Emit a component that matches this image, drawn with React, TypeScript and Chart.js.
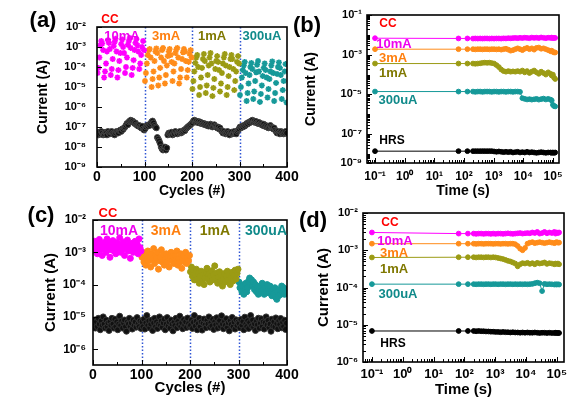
import React, { useEffect, useRef } from 'react';
import { Chart, registerables } from 'chart.js';
Chart.register(...registerables);

const FONT = "'Liberation Sans', Arial, sans-serif";

// ---------------- colours ----------------
const C_MAG = '#ff00ff';
const C_ORG = '#ff8c1a';
const C_OLV = '#9b9b14';
const C_TEA = '#169999';
const C_BLK = '#000000';

// ---------------- panel (a): cycles, pulse sweep ----------------
const a10mA = [5e-5, 9e-5, 3e-4, 1.2e-3, 2e-3, 1.5e-3, 7e-4, 3e-5, 6e-5, 1.5e-4, 6e-4, 2.2e-3, 1.6e-3, 8e-4, 4e-5, 8e-5, 2.5e-4, 1.1e-3, 1.8e-3, 2.6e-3, 6e-4, 3e-5, 7e-5, 2e-4, 5e-4, 1.4e-3, 2.4e-3, 1e-3, 5e-4, 5e-5, 1e-4, 3e-4, 1.3e-3, 2e-3, 2.8e-3, 9e-4, 4e-5, 9e-5, 2.2e-4, 7e-4, 1.6e-3, 2.5e-3, 1.2e-3, 6e-4, 8e-5, 1.5e-4, 4e-4, 1e-3, 2e-3, 7e-4];
const a3mA = [2e-5, 5e-5, 1.5e-4, 4e-4, 7e-4, 8e-4, 3e-4, 1e-5, 2.5e-5, 6e-5, 2e-4, 6e-4, 8.5e-4, 5e-4, 1.2e-5, 3e-5, 9e-5, 3e-4, 7e-4, 9e-4, 2e-4, 1.5e-5, 4e-5, 1.2e-4, 3.5e-4, 6e-4, 8e-4, 4e-4, 1.8e-4, 2e-5, 6e-5, 1.5e-4, 5e-4, 7.5e-4, 9e-4, 3e-4, 1.5e-5, 3e-5, 8e-5, 2.5e-4, 5.5e-4, 8e-4, 6e-4, 2e-4, 3e-5, 7e-5, 1.8e-4, 4.5e-4, 7e-4, 3e-4];
const a1mA = [8e-6, 2e-5, 6e-5, 1.6e-4, 3e-4, 4e-4, 1e-4, 4e-6, 1e-5, 3e-5, 9e-5, 2.5e-4, 4.5e-4, 2e-4, 5e-6, 1.2e-5, 4e-5, 1.2e-4, 3e-4, 5e-4, 1.5e-4, 3.5e-6, 9e-6, 2.5e-5, 8e-5, 2e-4, 3.5e-4, 1.8e-4, 7e-5, 6e-6, 1.5e-5, 5e-5, 1.5e-4, 3e-4, 4.5e-4, 1.2e-4, 4e-6, 1e-5, 3.5e-5, 1e-4, 2.5e-4, 4e-4, 2.5e-4, 8e-5, 7e-6, 2e-5, 6e-5, 1.8e-4, 3.5e-4, 1.5e-4];
const a300uA = [4e-6, 1e-5, 3e-5, 7e-5, 1.2e-4, 1.8e-4, 5e-5, 2e-6, 5e-6, 1.5e-5, 4e-5, 1e-4, 1.6e-4, 8e-5, 2.5e-6, 6e-6, 2e-5, 5.5e-5, 1.3e-4, 2e-4, 6e-5, 1.8e-6, 4.5e-6, 1.2e-5, 3.5e-5, 9e-5, 1.5e-4, 7e-5, 3e-5, 3e-6, 8e-6, 2.5e-5, 6e-5, 1.2e-4, 1.9e-4, 5e-5, 2e-6, 5e-6, 1.6e-5, 4.5e-5, 1e-4, 1.7e-4, 9e-5, 4e-5, 2.5e-6, 7e-6, 2e-5, 6e-5, 1.4e-4, 1.7e-6];
const aHRS = [
  5e-8, 4e-8, 5.5e-8, 4.5e-8, 6e-8, 5e-8, 4e-8, 4.5e-8, 5.5e-8, 5e-8, 4e-8, 6e-8, 5e-8, 4.5e-8, 5.5e-8, 6e-8, 5e-8, 4.5e-8, 4e-8, 5e-8, 6e-8, 5.5e-8, 5e-8, 6.5e-8, 7e-8, 6e-8, 8e-8, 7.5e-8,
  9e-8, 1e-7, 1.2e-7, 1.5e-7, 1.3e-7, 1.8e-7, 2e-7, 2.2e-7, 1.9e-7, 2e-7, 1.7e-7, 1.5e-7, 1.6e-7, 1.3e-7, 1.2e-7,
  1.1e-7, 1.2e-7, 1e-7, 9e-8, 1.1e-7, 8e-8, 7e-8,
  8e-8, 1e-7, 1.2e-7, 1.1e-7, 1.3e-7, 1.2e-7, 1.5e-7, 1.8e-7, 2e-7, 1.6e-7,
  1.2e-7, 1e-7, 9e-8, 3e-8, 2.5e-8, 2e-8, 1.5e-8, 1e-8, 8e-9, 7e-9, 8e-9, 1e-8, 7e-9, 9e-9,
  4e-8, 5e-8, 4.5e-8, 5e-8, 5.5e-8, 4e-8, 5e-8, 4.5e-8, 6e-8, 5e-8, 4.5e-8, 5.5e-8, 5e-8, 6e-8, 5e-8, 5.5e-8, 6e-8, 7e-8, 6.5e-8,
  8e-8, 9e-8, 1e-7, 1.1e-7, 1.2e-7, 1.3e-7, 1.5e-7,
  1.6e-7, 2e-7, 2.2e-7, 1.8e-7, 2e-7, 1.7e-7, 1.9e-7, 1.6e-7, 1.8e-7, 1.5e-7, 1.6e-7, 1.4e-7, 1.5e-7,
  1.3e-7, 1.4e-7, 1.2e-7, 1.3e-7, 1.1e-7, 1.2e-7, 1.4e-7, 1.2e-7, 1e-7, 1.1e-7, 1.3e-7, 1.1e-7, 1e-7, 9e-8, 1e-7, 8e-8, 9e-8,
  7e-8, 6e-8, 5e-8, 6e-8, 5e-8, 4.5e-8, 5e-8, 6e-8, 5e-8, 4e-8, 5e-8, 5.5e-8, 4.5e-8, 5e-8, 6e-8, 5e-8, 4.5e-8, 6e-8, 7e-8, 8e-8,
  1e-7, 9e-8, 1.1e-7, 1e-7, 1.2e-7,
  1.1e-7, 1.3e-7, 1.5e-7, 1.4e-7, 1.7e-7, 1.6e-7, 1.9e-7, 2e-7, 2.2e-7, 1.8e-7, 2e-7, 1.7e-7, 1.9e-7, 1.6e-7, 1.5e-7, 1.7e-7, 1.4e-7, 1.5e-7,
  1.3e-7, 1.2e-7, 1.4e-7, 1.1e-7, 1.2e-7, 1e-7, 1.1e-7, 9e-8, 1e-7, 1.2e-7, 1e-7, 9e-8, 8e-8, 9e-8, 7e-8,
  6e-8, 5e-8, 6e-8, 5e-8, 4.5e-8, 6e-8, 5e-8, 5.5e-8, 4.5e-8, 5e-8, 6e-8, 5e-8,
];

// ---------------- panel (c): cycles, second device ----------------
const c10mA = [1.5e-3, 2.2e-3, 1.1e-3, 1.8e-3, 9e-4, 1.4e-3, 2.5e-3, 1.2e-3, 1.7e-3, 8e-4, 1.3e-3, 2e-3, 1.6e-3, 1e-3, 2.6e-3, 1.4e-3, 1.9e-3, 7e-4, 1.2e-3, 1.7e-3, 2.3e-3, 1.1e-3, 1.5e-3, 9e-4, 2e-3, 1.3e-3, 1.8e-3, 2.8e-3, 1e-3, 1.5e-3, 1.2e-3, 2.1e-3, 8e-4, 1.6e-3, 1.4e-3, 2.4e-3, 1.1e-3, 1.7e-3, 6.5e-4, 1.3e-3, 1.9e-3, 1e-3, 1.5e-3, 2.2e-3, 1.2e-3, 1.8e-3, 9e-4, 2.6e-3, 1.4e-3, 1.1e-3];
const c3mA = [7e-4, 1e-3, 5e-4, 8e-4, 4e-4, 6e-4, 1.1e-3, 5.5e-4, 7.5e-4, 3.5e-4, 9e-4, 6e-4, 1.3e-3, 4.5e-4, 8e-4, 6.5e-4, 1e-3, 3e-4, 5.5e-4, 7e-4, 1.2e-3, 5e-4, 8.5e-4, 4e-4, 6e-4, 9e-4, 5e-4, 7e-4, 3.5e-4, 6.5e-4, 1e-3, 5.5e-4, 7.5e-4, 4.5e-4, 8e-4, 6e-4, 1.1e-3, 4e-4, 6.5e-4, 5e-4, 9e-4, 3.2e-4, 6e-4, 7.5e-4, 5e-4, 1e-3, 4.5e-4, 7e-4, 5.5e-4, 8e-4];
const c1mA = [2.5e-4, 3.5e-4, 1.8e-4, 2.8e-4, 1.4e-4, 2e-4, 3e-4, 1.5e-4, 2.2e-4, 1.1e-4, 1.8e-4, 2.6e-4, 1.3e-4, 2e-4, 1e-4, 1.6e-4, 2.4e-4, 3.2e-4, 1.5e-4, 2.1e-4, 1.2e-4, 1.8e-4, 2.7e-4, 1.4e-4, 2e-4, 3.8e-4, 1.6e-4, 2.3e-4, 1.1e-4, 1.7e-4, 2.5e-4, 1.3e-4, 1.9e-4, 9e-5, 1.5e-4, 2.2e-4, 1.2e-4, 1.8e-4, 2.6e-4, 1.4e-4, 2e-4, 1e-4, 1.6e-4, 2.4e-4, 1.3e-4, 1.9e-4, 2.8e-4, 1.5e-4, 2.2e-4, 3e-4];
const c300uA = [1.2e-4, 8e-5, 1e-4, 6e-5, 9e-5, 5e-5, 7e-5, 1.1e-4, 6e-5, 8e-5, 1.3e-4, 1.6e-4, 1e-4, 1.4e-4, 9e-5, 1.2e-4, 7e-5, 1e-4, 6e-5, 8e-5, 5e-5, 7e-5, 9e-5, 6e-5, 1.1e-4, 7e-5, 5e-5, 8e-5, 6e-5, 1e-4, 7e-5, 5.5e-5, 9e-5, 6e-5, 4.5e-5, 7e-5, 5e-5, 8e-5, 4e-5, 3.5e-5, 6e-5, 4.5e-5, 7e-5, 5e-5, 9e-5, 6e-5, 8e-5, 5e-5, 7e-5, 6e-5];
const cHRS = [
  6e-6, 8e-6, 4.5e-6, 7e-6, 5e-6, 9e-6, 6e-6, 4e-6, 7.5e-6, 5.5e-6, 1e-5, 6e-6, 4.5e-6, 8e-6, 5e-6, 6.5e-6, 3.8e-6, 7e-6, 5.5e-6, 9e-6, 6e-6, 4.5e-6, 8.5e-6, 5e-6, 7e-6, 4e-6, 6e-6, 1.05e-5, 5.5e-6, 7.5e-6, 4.5e-6, 6.5e-6, 8e-6, 5e-6, 3.6e-6, 7e-6, 6e-6, 9e-6, 5e-6, 6.5e-6, 4.2e-6, 8e-6, 5.5e-6, 7e-6, 4.8e-6, 9.5e-6, 6e-6, 5e-6, 7.5e-6, 4.4e-6,
  7e-6, 5e-6, 8.5e-6, 4.2e-6, 6.5e-6, 1.1e-5, 5.5e-6, 7.5e-6, 4.6e-6, 6e-6, 8e-6, 3.8e-6, 6.5e-6, 9e-6, 5e-6, 7e-6, 4.4e-6, 6e-6, 1e-5, 5.5e-6, 7.5e-6, 4.8e-6, 6.5e-6, 8.5e-6, 4e-6, 6e-6, 9.5e-6, 5.2e-6, 7e-6, 4.5e-6, 8e-6, 6e-6, 3.7e-6, 6.8e-6, 5.4e-6, 9e-6, 4.6e-6, 7.2e-6, 5.8e-6, 1.05e-5, 5e-6, 6.6e-6, 4.3e-6, 8.2e-6, 5.6e-6, 7e-6, 4.7e-6, 9.2e-6, 6.2e-6, 5.1e-6,
  5.5e-6, 8e-6, 4.4e-6, 6.8e-6, 1.1e-5, 5.2e-6, 7.4e-6, 4e-6, 6.2e-6, 9e-6, 5e-6, 7e-6, 3.9e-6, 6.4e-6, 8.6e-6, 5.6e-6, 4.6e-6, 7.8e-6, 6e-6, 1e-5, 4.8e-6, 6.6e-6, 5.3e-6, 8.4e-6, 4.1e-6, 7.1e-6, 5.7e-6, 9.4e-6, 4.5e-6, 6.3e-6, 7.7e-6, 5.1e-6, 1.08e-5, 6e-6, 4.3e-6, 7.3e-6, 5.5e-6, 8.8e-6, 4.7e-6, 6.5e-6, 3.7e-6, 7.6e-6, 5.9e-6, 9.6e-6, 5e-6, 6.9e-6, 4.2e-6, 8.1e-6, 5.4e-6, 7e-6,
  6.3e-6, 4.6e-6, 8.3e-6, 5.5e-6, 7.2e-6, 4e-6, 9.8e-6, 6e-6, 5e-6, 7.6e-6, 4.4e-6, 6.7e-6, 1.1e-5, 5.3e-6, 8e-6, 4.8e-6, 6.1e-6, 3.8e-6, 7.4e-6, 5.7e-6, 9.1e-6, 4.5e-6, 6.4e-6, 8.7e-6, 5.1e-6, 7e-6, 4.2e-6, 6.6e-6, 1e-5, 5.6e-6, 7.8e-6, 4.7e-6, 6e-6, 3.6e-6, 8.5e-6, 5.2e-6, 7.1e-6, 4.9e-6, 9.3e-6, 6.2e-6, 4.3e-6, 7.5e-6, 5.8e-6, 8.9e-6, 4.6e-6, 6.8e-6, 5e-6, 7.9e-6, 4.1e-6, 6.4e-6,
];

// ---------------- panels (b), (d): retention vs time ----------------
const tTime = [0.1, 65, 130, 200, 240, 290, 350, 420, 500, 600, 720, 860, 1030, 1240, 1490, 1790, 2150, 2580, 3100, 3720, 4460, 5350, 6420, 7700, 9240, 11100, 13300, 16000, 19200, 23000, 27600, 33100, 39700, 47600, 57100, 68500, 82200, 90000, 98600, 108000, 118000];

const b10mA = [6.8e-3, 6.6e-3, 6.6e-3, 6.5e-3, 6.6e-3, 6.5e-3, 6.6e-3, 6.5e-3, 6.6e-3, 6.6e-3, 6.5e-3, 6.6e-3, 6.5e-3, 6.6e-3, 6.6e-3, 6.5e-3, 6.7e-3, 6.6e-3, 6.8e-3, 6.7e-3, 6.9e-3, 7e-3, 6.8e-3, 7.1e-3, 6.9e-3, 7.2e-3, 7e-3, 6.8e-3, 7.3e-3, 7e-3, 7.2e-3, 6.9e-3, 7.4e-3, 7.1e-3, 6.8e-3, 7.2e-3, 7e-3, 7.3e-3, 6.9e-3, 7.1e-3, 7e-3];
const b3mA = [1.9e-3, 1.9e-3, 1.9e-3, 1.9e-3, 1.85e-3, 1.9e-3, 1.9e-3, 1.85e-3, 1.9e-3, 1.9e-3, 1.85e-3, 1.9e-3, 1.9e-3, 1.85e-3, 1.9e-3, 1.8e-3, 1.9e-3, 2e-3, 1.8e-3, 1.6e-3, 1.7e-3, 1.9e-3, 2.1e-3, 1.9e-3, 1.7e-3, 2e-3, 2.2e-3, 1.9e-3, 2.1e-3, 1.8e-3, 2.2e-3, 2.3e-3, 2e-3, 2.1e-3, 1.9e-3, 1.7e-3, 1.5e-3, 1.6e-3, 1.4e-3, 1.3e-3, 1.3e-3];
const b1mA = [3.6e-4, 3.6e-4, 3.6e-4, 3.6e-4, 3.5e-4, 3.6e-4, 3.7e-4, 3.9e-4, 4e-4, 3.9e-4, 4e-4, 3.8e-4, 3.6e-4, 3e-4, 2.4e-4, 1.8e-4, 1.5e-4, 1.4e-4, 1.5e-4, 1.4e-4, 1.45e-4, 1.4e-4, 1.5e-4, 1.4e-4, 1.6e-4, 1.3e-4, 1.5e-4, 1.2e-4, 1.4e-4, 1.6e-4, 1.3e-4, 1.1e-4, 1.4e-4, 1.2e-4, 1e-4, 1.3e-4, 1.1e-4, 9e-5, 1e-4, 7e-5, 6e-5];
const b300uA = [1.4e-5, 1.4e-5, 1.4e-5, 1.4e-5, 1.35e-5, 1.4e-5, 1.4e-5, 1.35e-5, 1.4e-5, 1.4e-5, 1.4e-5, 1.35e-5, 1.4e-5, 1.4e-5, 1.35e-5, 1.4e-5, 1.4e-5, 1.35e-5, 1.4e-5, 1.4e-5, 1.35e-5, 1.4e-5, 1.4e-5, 1.35e-5, 6.5e-6, 6e-6, 5.6e-6, 5.8e-6, 5.5e-6, 5.7e-6, 6e-6, 5.5e-6, 5.8e-6, 6.2e-6, 5.6e-6, 6e-6, 5.5e-6, 5e-6, 3e-6, 2.6e-6, 2.5e-6];
const bHRS = [1.4e-8, 1.4e-8, 1.4e-8, 1.4e-8, 1.4e-8, 1.4e-8, 1.4e-8, 1.4e-8, 1.4e-8, 1.4e-8, 1.4e-8, 1.4e-8, 1.35e-8, 1.3e-8, 1.35e-8, 1.3e-8, 1.25e-8, 1.3e-8, 1.25e-8, 1.3e-8, 1.2e-8, 1.25e-8, 1.3e-8, 1.2e-8, 1.25e-8, 1.2e-8, 1.3e-8, 1.2e-8, 1.25e-8, 1.2e-8, 1.15e-8, 1.2e-8, 1.25e-8, 1.2e-8, 1.15e-8, 1.2e-8, 1.2e-8, 1.15e-8, 1.2e-8, 1.15e-8, 1.2e-8];

const d10mA = [3e-3, 2.8e-3, 2.8e-3, 2.8e-3, 2.75e-3, 2.8e-3, 2.8e-3, 2.75e-3, 2.8e-3, 2.8e-3, 2.75e-3, 2.8e-3, 2.75e-3, 2.8e-3, 2.8e-3, 2.75e-3, 2.8e-3, 2.85e-3, 2.8e-3, 2.75e-3, 2.8e-3, 2.85e-3, 2.9e-3, 2.8e-3, 2.85e-3, 2.9e-3, 2.85e-3, 3e-3, 2.9e-3, 3.1e-3, 2.8e-3, 2.9e-3, 3.1e-3, 2.85e-3, 3e-3, 2.9e-3, 3.1e-3, 2.8e-3, 3e-3, 2.9e-3, 3e-3];
const d3mA = [1.5e-3, 1.5e-3, 1.5e-3, 1.5e-3, 1.48e-3, 1.5e-3, 1.5e-3, 1.48e-3, 1.5e-3, 1.5e-3, 1.5e-3, 1.48e-3, 1.5e-3, 1.5e-3, 1.48e-3, 1.5e-3, 1.5e-3, 1.48e-3, 1.5e-3, 1.5e-3, 1.45e-3, 1.3e-3, 1.1e-3, 1e-3, 1.15e-3, 1.5e-3, 1.6e-3, 1.65e-3, 1.55e-3, 1.6e-3, 1.65e-3, 1.6e-3, 1.55e-3, 1.6e-3, 1.65e-3, 1.6e-3, 1.55e-3, 1.6e-3, 1.65e-3, 1.6e-3, 1.6e-3];
const d1mA = [6.4e-4, 6.5e-4, 6.5e-4, 6.5e-4, 6.4e-4, 6.5e-4, 6.5e-4, 6.4e-4, 6.5e-4, 6.5e-4, 6.4e-4, 6.5e-4, 6.4e-4, 6.2e-4, 6e-4, 5.8e-4, 5.5e-4, 5.2e-4, 5e-4, 4.7e-4, 4.4e-4, 3.7e-4, 4.2e-4, 4.5e-4, 4.4e-4, 4.6e-4, 4.3e-4, 4.5e-4, 4.2e-4, 4.6e-4, 4.4e-4, 4.5e-4, 4.7e-4, 4.3e-4, 4.5e-4, 4.4e-4, 4.2e-4, 4.4e-4, 4.3e-4, 4.4e-4, 4.2e-4];
const d300uA = [1.23e-4, 1.23e-4, 1.23e-4, 1.23e-4, 1.22e-4, 1.23e-4, 1.23e-4, 1.22e-4, 1.23e-4, 1.23e-4, 1.22e-4, 1.23e-4, 1.23e-4, 1.22e-4, 1.23e-4, 1.23e-4, 1.22e-4, 1.23e-4, 1.23e-4, 1.22e-4, 1.23e-4, 1.22e-4, 1.23e-4, 1.22e-4, 1.23e-4, 1.22e-4, 1.23e-4, 1.25e-4, 1.3e-4, 1.35e-4, 1.3e-4, 8e-5, 1.25e-4, 1.22e-4, 1.23e-4, 1.22e-4, 1.2e-4, 1.22e-4, 1.2e-4, 1.22e-4, 1.2e-4];
const dHRS = [6.8e-6, 6.8e-6, 6.8e-6, 6.8e-6, 6.7e-6, 6.8e-6, 6.7e-6, 6.7e-6, 6.6e-6, 6.6e-6, 6.5e-6, 6.5e-6, 6.4e-6, 6.4e-6, 6.3e-6, 6.4e-6, 6.3e-6, 6.3e-6, 6.2e-6, 6.3e-6, 6.2e-6, 6.2e-6, 6.1e-6, 6.2e-6, 6.1e-6, 6.2e-6, 6.1e-6, 6.1e-6, 6.2e-6, 6.1e-6, 6e-6, 6.1e-6, 6.1e-6, 6e-6, 6.1e-6, 6e-6, 6e-6, 6.1e-6, 6e-6, 6e-6, 6e-6];

// boundaries between compliance-current blocks
const blockEdges = [100, 200, 300];

// ---------------- helpers ----------------
const SUP: Record<string, string> = { '-': '⁻', '0': '⁰', '1': '¹', '2': '²', '3': '³', '4': '⁴', '5': '⁵', '6': '⁶', '7': '⁷', '8': '⁸', '9': '⁹' };
const pow10Label = (e: number) => '10' + String(e).split('').map((ch) => SUP[ch] ?? ch).join('');
const bold = (size: number) => ({ family: FONT, size, weight: 'bold' as const });

// every other cycle inside a 100-cycle block
const segPts = (vals: number[], start: number) => vals.map((y, i) => ({ x: start + 1 + 2 * i, y }));
const timePts = (vals: number[]) => vals.map((y, i) => ({ x: tTime[i], y }));

function logTicks(min: number, max: number) {
  const out: { value: number }[] = [];
  for (let e = Math.floor(Math.log10(min)); e <= Math.ceil(Math.log10(max)); e++) {
    for (let m = 1; m <= 9; m++) {
      const v = m * Math.pow(10, e);
      if (v >= min * 0.999999 && v <= max * 1.000001) out.push({ value: v });
    }
  }
  return out;
}
function decadeTicks(a: number, b: number) {
  const out: { value: number }[] = [];
  for (let e = a; e <= b; e++) out.push({ value: Math.pow(10, e) });
  return out;
}
const decadeLabel = (allowed: number[]) => (v: number) => {
  const e = Math.log10(v);
  const r = Math.round(e);
  return Math.abs(e - r) < 1e-6 && allowed.includes(r) ? pow10Label(r) : '';
};

function axis(o: {
  type: string; min: number; max: number; title: string; titleSize: number; tickSize: number; tickPad: number;
  fit: 'width' | 'height'; fitVal: number; label: (v: number) => string; build?: (s: any) => void; stepSize?: number;
}) {
  return {
    type: o.type,
    min: o.min,
    max: o.max,
    grid: { display: false, drawTicks: false },
    border: { display: false },
    title: { display: true, text: o.title, color: '#000', font: bold(o.titleSize), padding: 0 },
    ticks: {
      color: '#000', font: bold(o.tickSize), padding: o.tickPad, autoSkip: false, maxRotation: 0, minRotation: 0,
      stepSize: o.stepSize, callback: (v: any) => o.label(Number(v)),
    },
    afterBuildTicks: o.build,
    afterFit: (s: any) => { s[o.fit] = o.fitVal; },
  };
}

function framePlugin(vlines: number[]) {
  return {
    id: 'frameTicks',
    beforeDatasetsDraw(chart: any) {
      if (!vlines.length) return;
      const { ctx, chartArea: a, scales } = chart;
      ctx.save();
      ctx.strokeStyle = '#2f55d4';
      ctx.lineWidth = 1.5;
      ctx.setLineDash([1.5, 2]);
      for (const v of vlines) {
        const x = Math.round(scales.x.getPixelForValue(v)) + 0.5;
        ctx.beginPath(); ctx.moveTo(x, a.top); ctx.lineTo(x, a.bottom); ctx.stroke();
      }
      ctx.restore();
    },
    afterDatasetsDraw(chart: any) {
      const { ctx, chartArea: a, scales } = chart;
      ctx.save();
      ctx.strokeStyle = '#000';
      ctx.lineWidth = 1;
      const xs = scales.x, ys = scales.y;
      for (const t of xs.ticks) {
        const x = Math.round(xs.getPixelForValue(t.value)) + 0.5;
        const len = t.label ? 5 : 3;
        ctx.beginPath(); ctx.moveTo(x, a.bottom); ctx.lineTo(x, a.bottom - len); ctx.stroke();
      }
      for (const t of ys.ticks) {
        const y = Math.round(ys.getPixelForValue(t.value)) + 0.5;
        const len = t.label ? 5 : 3;
        ctx.beginPath(); ctx.moveTo(a.left, y); ctx.lineTo(a.left + len, y); ctx.stroke();
      }
      ctx.lineWidth = 1.6;
      ctx.strokeRect(a.left, a.top, a.right - a.left, a.bottom - a.top);
      ctx.restore();
    },
  };
}

function makeChart(canvas: HTMLCanvasElement, pad: any, scales: any, datasets: any[], vlines: number[]) {
  return new Chart(canvas, {
    type: 'scatter',
    data: { datasets },
    options: {
      responsive: false,
      animation: false,
      devicePixelRatio: 1,
      events: [],
      layout: { padding: pad },
      plugins: { legend: { display: false }, tooltip: { enabled: false } },
      scales,
    } as any,
    plugins: [framePlugin(vlines)],
  });
}

const starSet = (data: any[], color: string) => ({
  data, pointStyle: 'star', pointRadius: 3, borderColor: color, backgroundColor: color, pointBorderWidth: 1.6, showLine: false,
});
const dotSet = (data: any[], color: string, r: number, edge?: string) => ({
  data, pointStyle: 'circle', pointRadius: r, borderColor: edge ?? color, backgroundColor: color, pointBorderWidth: 1, showLine: false,
});
const lineSet = (data: any[], color: string) => ({
  data, pointStyle: 'circle', pointRadius: 2.4, borderColor: color, backgroundColor: color, pointBorderWidth: 1,
  showLine: true, borderWidth: 1, tension: 0,
});

// ---------------- text overlays ----------------
const LABELS = [
  { t: '(a)', x: 43, y: 20, c: '#000', s: 22 },
  { t: 'CC', x: 110, y: 19, c: '#ff0000', s: 12 },
  { t: '10mA', x: 122, y: 35, c: '#ee00ee', s: 13 },
  { t: '3mA', x: 166, y: 35, c: '#ff7f0e', s: 13 },
  { t: '1mA', x: 212, y: 35, c: '#7f7800', s: 13 },
  { t: '300uA', x: 262, y: 35, c: '#108a8a', s: 13 },
  { t: '(b)', x: 307, y: 25, c: '#000', s: 22 },
  { t: 'CC', x: 388, y: 23, c: '#ff0000', s: 12 },
  { t: '10mA', x: 394, y: 43, c: '#ee00ee', s: 13 },
  { t: '3mA', x: 393, y: 57, c: '#ff7f0e', s: 13 },
  { t: '1mA', x: 393, y: 72, c: '#7f7800', s: 13 },
  { t: '300uA', x: 398, y: 99, c: '#108a8a', s: 13 },
  { t: 'HRS', x: 392, y: 140, c: '#000', s: 12 },
  { t: '(c)', x: 41, y: 215, c: '#000', s: 22 },
  { t: 'CC', x: 108, y: 212, c: '#ff0000', s: 13 },
  { t: '10mA', x: 119, y: 230, c: '#ee00ee', s: 14 },
  { t: '3mA', x: 166, y: 230, c: '#ff7f0e', s: 14 },
  { t: '1mA', x: 215, y: 230, c: '#7f7800', s: 14 },
  { t: '300uA', x: 266, y: 230, c: '#108a8a', s: 14 },
  { t: '(d)', x: 313, y: 220, c: '#000', s: 22 },
  { t: 'CC', x: 390, y: 222, c: '#ff0000', s: 12 },
  { t: '10mA', x: 395, y: 240, c: '#ee00ee', s: 13 },
  { t: '3mA', x: 394, y: 252, c: '#ff7f0e', s: 13 },
  { t: '1mA', x: 394, y: 268, c: '#7f7800', s: 13 },
  { t: '300uA', x: 398, y: 293, c: '#108a8a', s: 13 },
  { t: 'HRS', x: 393, y: 343, c: '#000', s: 12 },
];

export default function App() {
  const ra = useRef<HTMLCanvasElement>(null);
  const rb = useRef<HTMLCanvasElement>(null);
  const rc = useRef<HTMLCanvasElement>(null);
  const rd = useRef<HTMLCanvasElement>(null);

  useEffect(() => {
    const charts: Chart[] = [];

    // (a) plot area 97..287 x 27..167
    charts.push(makeChart(ra.current!, { left: 35, top: 27, right: 293, bottom: 210 }, {
      x: axis({ type: 'linear', min: 0, max: 400, stepSize: 50, title: 'Cycles (#)', titleSize: 14, tickSize: 14, tickPad: 2,
        fit: 'height', fitVal: 33, label: (v) => (v % 100 === 0 ? String(v) : '') }),
      y: axis({ type: 'logarithmic', min: 1e-9, max: 1e-2, title: 'Current (A)', titleSize: 14, tickSize: 11, tickPad: 11,
        fit: 'width', fitVal: 62, label: decadeLabel([-9, -8, -7, -6, -5, -4, -3, -2]),
        build: (s: any) => { s.ticks = decadeTicks(-9, -2); } }),
    }, [
      starSet(segPts(a10mA, 0), C_MAG),
      starSet(segPts(a3mA, 100), C_ORG),
      starSet(segPts(a1mA, 200), C_OLV),
      starSet(segPts(a300uA, 300), C_TEA),
      dotSet(aHRS.map((y, i) => ({ x: 1 + 2 * i, y })), '#111', 2.9, '#444'),
    ], blockEdges));

    // (b) plot area 367..559 x 15..163
    const bYMin = 3.55e-9, bYMax = 1e-1, bXMin = 0.0537, bXMax = 1.585e5;
    charts.push(makeChart(rb.current!, { left: 303, top: 15, right: 21, bottom: 210 }, {
      x: axis({ type: 'logarithmic', min: bXMin, max: bXMax, title: 'Time (s)', titleSize: 14, tickSize: 12, tickPad: 6,
        fit: 'height', fitVal: 37, label: decadeLabel([-1, 0, 1, 2, 3, 4, 5]),
        build: (s: any) => { s.ticks = logTicks(bXMin, bXMax); } }),
      y: axis({ type: 'logarithmic', min: bYMin, max: bYMax, title: 'Current (A)', titleSize: 14, tickSize: 11, tickPad: 5,
        fit: 'width', fitVal: 64,
        label: (v) => (v === bYMin ? '10⁻⁹' : decadeLabel([-1, -3, -5, -7])(v)),
        build: (s: any) => { s.ticks = [{ value: bYMin }, ...logTicks(bYMin, bYMax)]; } }),
    }, [
      lineSet(timePts(b10mA), C_MAG),
      lineSet(timePts(b3mA), C_ORG),
      lineSet(timePts(b1mA), C_OLV),
      lineSet(timePts(b300uA), C_TEA),
      lineSet(timePts(bHRS), C_BLK),
    ], []));

    // (c) plot area 93..287 x 220..366
    const cYMin = 3.24e-7;
    charts.push(makeChart(rc.current!, { left: 42, top: 220, right: 293, bottom: 13 }, {
      x: axis({ type: 'linear', min: 0, max: 400, stepSize: 50, title: 'Cycles (#)', titleSize: 15, tickSize: 14, tickPad: 2,
        fit: 'height', fitVal: 32, label: (v) => (v % 100 === 0 ? String(v) : '') }),
      y: axis({ type: 'logarithmic', min: cYMin, max: 1e-2, title: 'Current (A)', titleSize: 15, tickSize: 12, tickPad: 7,
        fit: 'width', fitVal: 51, label: decadeLabel([-6, -5, -4, -3, -2]),
        build: (s: any) => { s.ticks = decadeTicks(-6, -2); } }),
    }, [
      dotSet(segPts(c10mA, 0), C_MAG, 3),
      dotSet(segPts(c3mA, 100), C_ORG, 3),
      dotSet(segPts(c1mA, 200), C_OLV, 3),
      dotSet(segPts(c300uA, 300), C_TEA, 3),
      dotSet(cHRS.map((y, i) => ({ x: 1 + 2 * i, y })), '#111', 3, '#333'),
    ], blockEdges));

    // (d) plot area 363..564 x 213..362
    const dXMin = 0.0513, dXMax = 1.7e5;
    charts.push(makeChart(rd.current!, { left: 315, top: 213, right: 16, bottom: 11 }, {
      x: axis({ type: 'logarithmic', min: dXMin, max: dXMax, title: 'Time (s)', titleSize: 15, tickSize: 13, tickPad: 5,
        fit: 'height', fitVal: 37, label: decadeLabel([-1, 0, 1, 2, 3, 4, 5]),
        build: (s: any) => { s.ticks = logTicks(dXMin, dXMax); } }),
      y: axis({ type: 'logarithmic', min: 1e-6, max: 1e-2, title: 'Current (A)', titleSize: 15, tickSize: 11, tickPad: 5,
        fit: 'width', fitVal: 48, label: decadeLabel([-6, -5, -4, -3, -2]),
        build: (s: any) => { s.ticks = logTicks(1e-6, 1e-2); } }),
    }, [
      lineSet(timePts(d10mA), C_MAG),
      lineSet(timePts(d3mA), C_ORG),
      lineSet(timePts(d1mA), C_OLV),
      lineSet(timePts(d300uA), C_TEA),
      lineSet(timePts(dHRS), C_BLK),
    ], []));

    return () => charts.forEach((c) => c.destroy());
  }, []);

  const cv: React.CSSProperties = { position: 'absolute', left: 0, top: 0, width: 580, height: 410, display: 'block' };
  return (
    <div style={{ position: 'absolute', left: 0, top: 0, width: 580, height: 410, background: '#fff', overflow: 'hidden' }}>
      <canvas ref={ra} width={580} height={410} style={cv} />
      <canvas ref={rb} width={580} height={410} style={cv} />
      <canvas ref={rc} width={580} height={410} style={cv} />
      <canvas ref={rd} width={580} height={410} style={cv} />
      {LABELS.map((l, i) => (
        <div key={i} style={{
          position: 'absolute', left: l.x, top: l.y, transform: 'translate(-50%, -50%)', whiteSpace: 'nowrap',
          fontFamily: FONT, fontWeight: 'bold', fontSize: l.s, lineHeight: 1, color: l.c,
        }}>{l.t}</div>
      ))}
    </div>
  );
}
